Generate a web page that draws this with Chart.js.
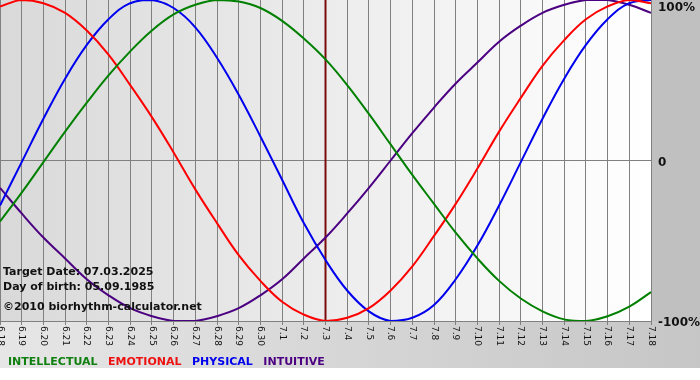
<!DOCTYPE html>
<html>
<head>
<meta charset="utf-8">
<script src="https://cdn.jsdelivr.net/npm/chart.js@4/dist/chart.umd.min.js"></script>
<style>
html,body{margin:0;padding:0;background:#fff;}
#wrap{width:700px;height:380px;position:relative;}
</style>
</head>
<body>
<div id="wrap"><canvas id="c" width="700" height="380"></canvas></div>
<script>
const days = ["6.18","6.19","6.20","6.21","6.22","6.23","6.24","6.25","6.26","6.27","6.28","6.29","6.30",
  "7.1","7.2","7.3","7.4","7.5","7.6","7.7","7.8","7.9","7.10","7.11","7.12","7.13","7.14","7.15","7.16","7.17","7.18"];
const intellectual = [-38,-20,-1,18,36,53,68,81,91,97,100,99,95,87,76,63,47,29,10,-9,-27,-45,-61,-75,-86,-94,-99,-100,-97,-91,-82];
const emotional = [96,100,98,92,81,66,47,27,5,-18,-39,-59,-75,-88,-96,-100,-98,-92,-81,-66,-47,-27,-5,18,39,59,75,88,96,100,98];
const physical = [-28,-1,26,51,72,88,98,100,95,83,64,41,15,-12,-39,-62,-81,-94,-100,-98,-90,-74,-53,-28,-1,26,51,72,88,98,100];
const intuitive = [-17,-33,-48,-61,-74,-84,-92,-97,-100,-100,-97,-92,-84,-74,-61,-48,-33,-17,0,17,33,48,61,74,84,92,97,100,100,97,92];
const yTickLabels = {"100":"100%","0":"0","-100":"-100%"};
const targetDay = "7.3";
const infoLines = ["Target Date: 07.03.2025","Day of birth: 05.09.1985","\u00A92010 biorhythm-calculator.net"];

const FONT = '"DejaVu Sans", Verdana, sans-serif';

const decor = {
  id: 'decor',
  beforeDraw(chart) {
    const ctx = chart.ctx, a = chart.chartArea;
    ctx.save();
    ctx.fillStyle = '#ffffff';
    ctx.fillRect(0, 0, chart.width, chart.height);
    let g = ctx.createLinearGradient(0, 0, chart.width, 0);
    g.addColorStop(0, '#e6e6e6');
    g.addColorStop(1, '#c6c6c6');
    ctx.fillStyle = g;
    ctx.fillRect(0, a.bottom, chart.width, 368 - a.bottom);
    ctx.fillStyle = '#c0c0c0';
    ctx.fillRect(a.right, 0, chart.width - a.right, a.bottom);
    g = ctx.createLinearGradient(a.left, 0, a.right, 0);
    g.addColorStop(0, '#d9d9d9');
    g.addColorStop(1, '#ffffff');
    ctx.fillStyle = g;
    ctx.fillRect(a.left, a.top, a.right - a.left, a.bottom - a.top);
    ctx.restore();
  },
  beforeDatasetsDraw(chart) {
    const ctx = chart.ctx, a = chart.chartArea, xs = chart.scales.x;
    const x = xs.getPixelForValue(days.indexOf(targetDay));
    ctx.save();
    ctx.strokeStyle = '#7a0c0c';
    ctx.lineWidth = 2;
    ctx.beginPath();
    ctx.moveTo(x, a.top);
    ctx.lineTo(x, a.bottom);
    ctx.stroke();
    ctx.restore();
  },
  afterDatasetsDraw(chart) {
    const ctx = chart.ctx, a = chart.chartArea, xs = chart.scales.x, ys = chart.scales.y;
    ctx.save();
    ctx.fillStyle = '#111';
    ctx.font = 'bold 11px ' + FONT;
    ctx.textAlign = 'left';
    ctx.textBaseline = 'middle';
    ctx.fillText(infoLines[0], 3, 272);
    ctx.fillText(infoLines[1], 3, 287);
    ctx.fillText(infoLines[2], 3, 307);
    ctx.font = '9px ' + FONT;
    ctx.fillStyle = '#111';
    days.forEach((d, i) => {
      const x = xs.getPixelForValue(i);
      ctx.save();
      ctx.translate(x, a.bottom + 5);
      ctx.rotate(Math.PI / 2);
      ctx.textAlign = 'left';
      ctx.textBaseline = 'middle';
      ctx.fillText(d, 0, 0);
      ctx.restore();
    });
    ctx.font = 'bold 12px ' + FONT;
    ctx.fillStyle = '#111';
    ctx.textAlign = 'left';
    ctx.textBaseline = 'middle';
    Object.keys(yTickLabels).forEach(k => {
      let y = ys.getPixelForValue(Number(k));
      y = Math.max(y + 2, 8);
      ctx.fillText(yTickLabels[k], a.right + 7, y);
    });
    ctx.font = 'bold 11px ' + FONT;
    let lx = 8;
    chart.data.datasets.forEach(ds => {
      ctx.fillStyle = ds.legendColor;
      ctx.fillText(ds.label, lx, 362);
      lx += ctx.measureText(ds.label).width + 10.5;
    });
    ctx.restore();
  }
};

new Chart(document.getElementById('c'), {
  type: 'line',
  data: {
    labels: days,
    datasets: [
      {label: 'INTELLECTUAL', data: intellectual, borderColor: '#008000', legendColor: '#108010'},
      {label: 'EMOTIONAL', data: emotional, borderColor: '#ff0000', legendColor: '#ee1111'},
      {label: 'PHYSICAL', data: physical, borderColor: '#0000ee', legendColor: '#0000ee'},
      {label: 'INTUITIVE', data: intuitive, borderColor: '#4b0082', legendColor: '#4b0082'}
    ].map(d => Object.assign(d, {borderWidth: 2, pointRadius: 0, tension: 0.4, fill: false}))
  },
  options: {
    responsive: false,
    animation: false,
    devicePixelRatio: 1,
    layout: {padding: {left: 0, right: 49, top: 0, bottom: 55}},
    plugins: {legend: {display: false}, tooltip: {enabled: false}},
    scales: {
      x: {
        type: 'category',
        offset: false,
        grid: {color: '#808080', lineWidth: 1, tickLength: 4, drawTicks: true},
        border: {display: true, color: '#808080'},
        ticks: {display: false}
      },
      y: {
        position: 'right',
        min: -100, max: 100,
        ticks: {display: false, stepSize: 100},
        grid: {drawTicks: false, color: c => c.tick && c.tick.value === 0 ? '#808080' : 'rgba(0,0,0,0)'},
        border: {display: false},
        afterFit: s => { s.width = 0; }
      }
    }
  },
  plugins: [decor]
});
</script>
</body>
</html>
